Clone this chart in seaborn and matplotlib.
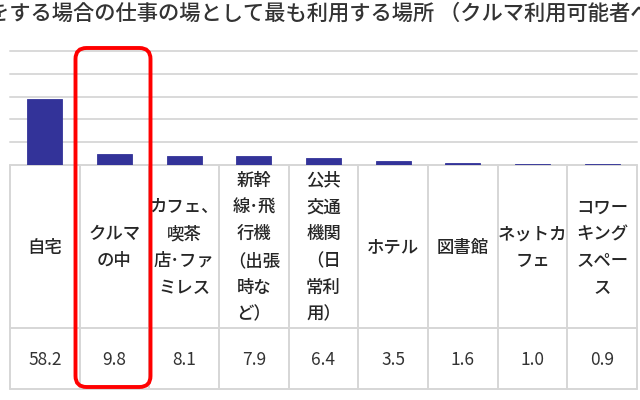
import matplotlib
matplotlib.use("Agg")
import matplotlib.pyplot as plt
import seaborn as sns
import pandas as pd
from matplotlib.patches import FancyBboxPatch

# data
title = "をする場合の仕事の場として最も利用する場所 （クルマ利用可能者ベース）"
places = ["自宅", "クルマの中", "カフェ、喫茶店・ファミレス", "新幹線・飛行機（出張時など）",
          "公共交通機関（日常利用）", "ホテル", "図書館", "ネットカフェ", "コワーキングスペース"]
header_labels = ["自宅", "クルマ\nの中", "カフェ、\n喫茶\n店･ファ\nミレス", "新幹\n線･飛\n行機\n（出張\n時な\nど）",
                 "公共\n交通\n機関\n（日\n常利\n用）", "ホテル", "図書館", "ネットカ\nフェ", "コワー\nキング\nスペー\nス"]
values = [58.2, 9.8, 8.1, 7.9, 6.4, 3.5, 1.6, 1.0, 0.9]
grid_ticks = [20, 40, 60, 80, 100]

df = pd.DataFrame({"place": places, "value": values})

sns.set_theme(style="white")
plt.rcParams["font.family"] = ["Noto Sans CJK JP", "DejaVu Sans"]

W, H = 640, 400
fig = plt.figure(figsize=(6.4, 4.0), dpi=100)
fig.patch.set_facecolor("white")

def px_axes(x0, y0, x1, y1):
    # axes from pixel box (top-left origin)
    return fig.add_axes([x0 / W, 1 - y1 / H, (x1 - x0) / W, (y1 - y0) / H])

n = len(places)
left, right = 10, 637

# table below the bars
tab = px_axes(left, 165, right, 389)
tab.set_xlim(-0.5, n - 0.5)
tab.set_ylim(224, 0)
tab.axis("off")
line_c = "#d6d6d6"
for i in range(n + 1):
    tab.plot([i - 0.5, i - 0.5], [0, 224], color=line_c, lw=1.4, clip_on=False)
for yy in [0, 163, 224]:
    tab.plot([-0.5, n - 0.5], [yy, yy], color=line_c, lw=1.4, clip_on=False)

hdr_mid = 82.5
for i, lab in enumerate(header_labels):
    lines = lab.split("\n")
    for k, ln in enumerate(lines):
        yy = hdr_mid + (k - (len(lines) - 1) / 2) * 26.8
        tab.text(i, yy, ln, ha="center", va="center", fontsize=12.5,
                 fontweight="medium", color="#262626")
    tab.text(i, 195, f"{values[i]:.1f}", ha="center", va="center", fontsize=12.5, color="#333333")

# bar chart
ax = px_axes(left, 51, right, 165)
for t in grid_ticks:
    ax.axhline(t, color="#d9d9d9", lw=1.4, zorder=0, clip_on=False)
sns.barplot(data=df, x="place", y="value", color="#333399", saturation=1,
            width=0.5, edgecolor="#333399", linewidth=0.6, ax=ax, zorder=2)
ax.set_xlim(-0.5, n - 0.5)
ax.set_ylim(0, 100)
ax.set_xlabel("")
ax.set_ylabel("")
ax.set_xticks([])
ax.set_yticks([])
for s in ax.spines.values():
    s.set_visible(False)
ax.patch.set_alpha(0)

# overlay in pixel coordinates: title and red highlight
ov = fig.add_axes([0, 0, 1, 1])
ov.set_xlim(0, W)
ov.set_ylim(H, 0)
ov.axis("off")
ov.patch.set_alpha(0)
ov.text(-12, 14, title, ha="left", va="center", fontsize=15.3, fontweight="medium",
        color="#333333", clip_on=False)
ov.add_patch(FancyBboxPatch((75.5, 48), 75, 339, boxstyle="round,pad=0,rounding_size=11",
                            fill=False, edgecolor="#ff0000", lw=2.8))

fig.savefig("out.png", dpi=100)
